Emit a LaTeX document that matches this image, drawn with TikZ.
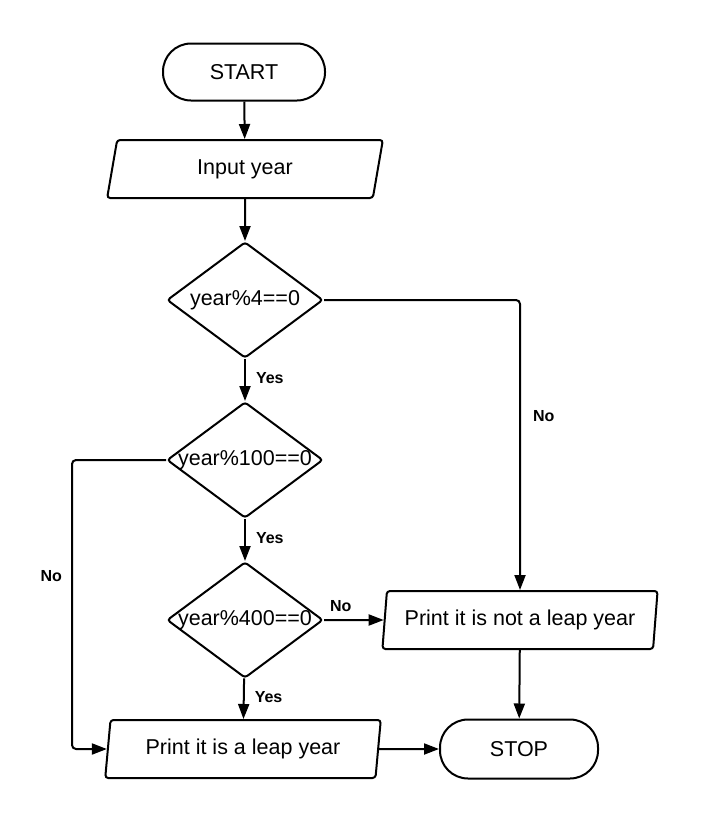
\documentclass[tikz,border=0pt]{standalone}
\usepackage{fontspec}
\setmainfont{Liberation Sans}
\usetikzlibrary{shapes.geometric,arrows.meta}
\begin{document}
\begin{tikzpicture}[x=1pt,y=-1pt,
 base/.style={draw,line width=2pt,font=\fontsize{21.5}{25}\selectfont,inner sep=0pt},
 term/.style={base,rectangle,rounded corners=28pt,minimum width=162pt,minimum height=57pt},
 io/.style={base,trapezium,trapezium left angle=79,trapezium right angle=101,trapezium stretches=true,minimum width=276pt,minimum height=58pt,rounded corners=3pt},
 dec/.style={base,diamond,minimum width=156pt,minimum height=116pt,rounded corners=3pt},
 arr/.style={line width=2pt,-{Triangle[length=15pt,width=11pt]},rounded corners=4pt},
 lab/.style={font=\bfseries\fontsize{16}{19}\selectfont,inner sep=0pt}]
\useasboundingbox (0,0) rectangle (705,820);
\node[term] (start) at (244,72) {START};
\node[io] (input) at (245,169) {Input year};
\node[dec] (d1) at (245,300) {\makebox[0pt]{year\%4==0}};
\node[dec] (d2) at (245,460) {\makebox[0pt]{year\%100==0}};
\node[dec] (d3) at (245,620) {\makebox[0pt]{year\%400==0}};
\node[io] (notleap) at (520,620) {Print it is not a leap year};
\node[io] (leap) at (243,749) {Print it is a leap year};
\node[term,minimum width=158pt,minimum height=59pt] (stop) at (519,749) {STOP};
\coordinate (c2) at (72,460);
\draw[arr] (start) -- (input);
\draw[arr] (input) -- (d1);
\draw[arr] (d1) -- node[lab,anchor=west,pos=0.45,xshift=10pt] {Yes} (d2);
\draw[arr] (d2) -- node[lab,anchor=west,pos=0.45,xshift=10pt] {Yes} (d3);
\draw[arr] (d3) -- node[lab,anchor=west,pos=0.45,xshift=10pt] {Yes} (leap);
\draw[arr] (d3.east) -- node[lab,anchor=south,pos=0.28,yshift=7pt] {No} (notleap);
\draw[arr] (d1.east) -| node[lab,anchor=west,pos=0.7,xshift=12pt] {No} (notleap.north);
\draw[arr] (d2.west) -- (c2) |- node[lab,anchor=east,pos=0.2,xshift=-9pt] {No} (leap.west);
\draw[arr] (leap) -- (stop);
\draw[arr] (notleap) -- (stop);
\end{tikzpicture}
\end{document}
